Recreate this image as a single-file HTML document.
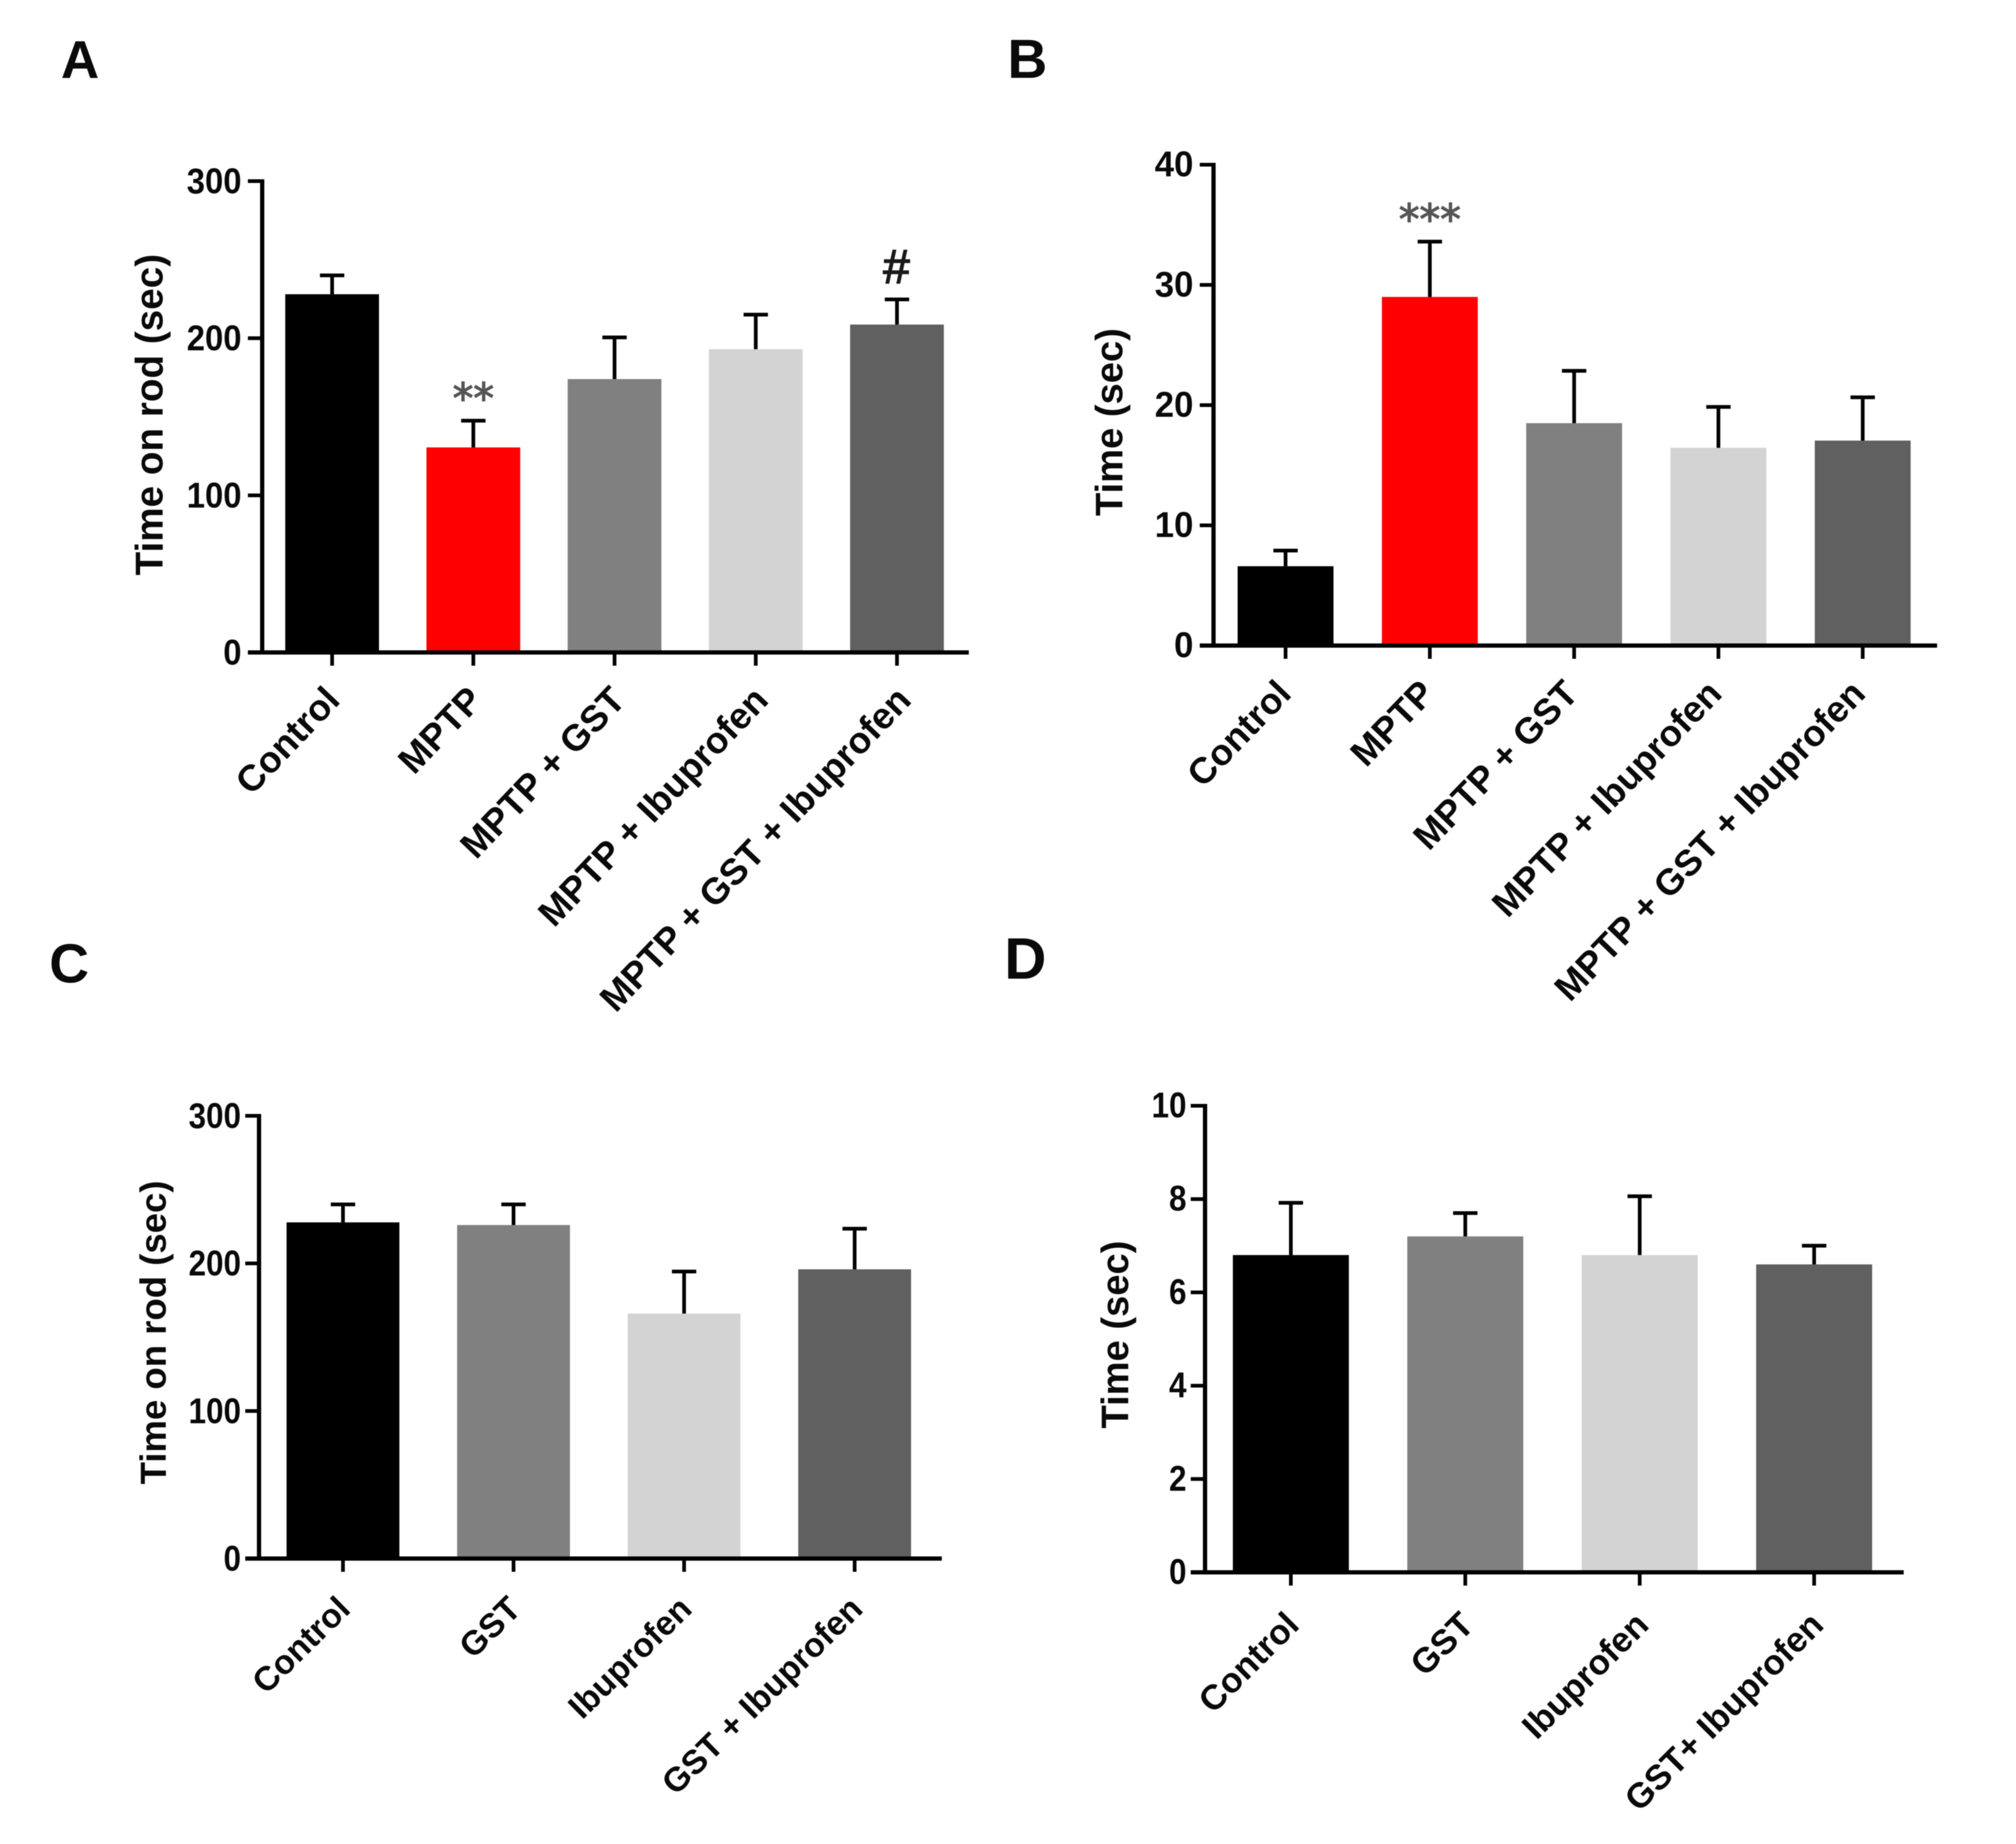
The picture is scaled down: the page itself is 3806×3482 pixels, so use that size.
<!DOCTYPE html>
<html lang="en">
<head>
<meta charset="utf-8">
<title>Time on rod and time measurements across treatment groups</title>
<style>
  html, body { margin: 0; padding: 0; background: #fff; }
  body { width: 3806px; height: 3482px; overflow: hidden; }
  svg { display: block; filter: blur(0.9px); }
  text { font-family: "Liberation Sans", sans-serif; font-weight: 700; fill: #0a0a0a; }
</style>
</head>
<body>
<svg id="figure" xmlns="http://www.w3.org/2000/svg" width="3806" height="3482" viewBox="0 0 3806 3482">
  <rect x="0" y="0" width="3806" height="3482" fill="#ffffff"/>
  <text x="115" y="147" font-size="100">A</text>
  <text x="1902" y="147" font-size="104">B</text>
  <text x="93" y="1855" font-size="104">C</text>
  <text x="1896" y="1848" font-size="110">D</text>
</svg>
<script>
// Panel A: time on rod, MPTP groups
const categoriesA = ["Control", "MPTP", "MPTP + GST", "MPTP + Ibuprofen", "MPTP + GST + Ibuprofen"];
const valuesA = [228, 130.5, 174, 193, 208.7];
const errorsA = [12, 17, 26.5, 22, 16];
const ticksA = [0, 100, 200, 300];
const shadesA = ["#000000", "#ff0000", "#808080", "#d3d3d3", "#606060"];
const marksA = ["", "**", "", "", "#"];

// Panel B: time, MPTP groups
const categoriesB = ["Control", "MPTP", "MPTP + GST", "MPTP + Ibuprofen", "MPTP + GST + Ibuprofen"];
const valuesB = [6.6, 29, 18.5, 16.45, 17.05];
const errorsB = [1.3, 4.6, 4.35, 3.4, 3.6];
const ticksB = [0, 10, 20, 30, 40];
const shadesB = ["#000000", "#ff0000", "#808080", "#d3d3d3", "#606060"];
const marksB = ["", "***", "", "", ""];

// Panel C: time on rod, non-MPTP groups
const categoriesC = ["Control", "GST", "Ibuprofen", "GST + Ibuprofen"];
const valuesC = [227.8, 226, 166, 196];
const errorsC = [12.2, 14, 28.5, 27.5];
const ticksC = [0, 100, 200, 300];
const shadesC = ["#000000", "#808080", "#d3d3d3", "#606060"];
const marksC = ["", "", "", ""];

// Panel D: time, non-MPTP groups
const categoriesD = ["Control", "GST", "Ibuprofen", "GST+ Ibuprofen"];
const valuesD = [6.8, 7.2, 6.8, 6.6];
const errorsD = [1.12, 0.5, 1.26, 0.4];
const ticksD = [0, 2, 4, 6, 8, 10];
const shadesD = ["#000000", "#808080", "#d3d3d3", "#606060"];
const marksD = ["", "", "", ""];

const NS = "http://www.w3.org/2000/svg";
const figure = document.getElementById("figure");

function mk(parent, tag, attrs, content) {
  const node = document.createElementNS(NS, tag);
  for (const key in attrs) node.setAttribute(key, attrs[key]);
  if (content !== undefined) node.textContent = content;
  parent.appendChild(node);
  return node;
}

function slug(text) {
  return text.toLowerCase().replace(/[^a-z0-9]+/g, "-").replace(/^-|-$/g, "");
}

function drawPanel(layout, categories, values, errors, ticks, shades, marks) {
  const domainMax = ticks[ticks.length - 1];
  const yOf = v => layout.baseY - (v / domainMax) * (layout.baseY - layout.topY);
  const xOf = i => layout.firstX + i * layout.stepX;

  const g = mk(figure, "g", {});
  
  

  categories.forEach((cat, i) => {
    const top = yOf(values[i]);
    const bar = mk(g, "rect", {
      x: xOf(i) - layout.barW / 2, y: top, width: layout.barW, height: layout.baseY - top, fill: shades[i]
    });
    
    

    const errTop = yOf(values[i] + errors[i]);
    const errStem = mk(g, "line", {
      x1: xOf(i), x2: xOf(i), y1: top, y2: errTop, stroke: "#000", "stroke-width": 7
    });
    
    

    const errCap = mk(g, "line", {
      x1: xOf(i) - 23, x2: xOf(i) + 23, y1: errTop, y2: errTop, stroke: "#000", "stroke-width": 7
    });
    
    

    if (marks[i] === "#") {
      const hash = mk(g, "text", {
        x: xOf(i) - 1, y: errTop - 31, "text-anchor": "middle", "font-size": 90,
        style: 'font-weight:400;fill:#1a1a1a;stroke:#1a1a1a;stroke-width:2.5px'
      }, marks[i]);
      
      
    } else if (marks[i]) {
      const stars = mk(g, "text", {
        x: xOf(i), y: errTop - 15, "text-anchor": "middle", "font-size": 78,
        style: 'font-family:"DejaVu Sans",sans-serif;font-weight:400;fill:#555555;stroke:#555555;stroke-width:2px'
      }, marks[i]);
      
      
    }

    const xTick = mk(g, "line", {
      x1: xOf(i), x2: xOf(i), y1: layout.baseY, y2: layout.baseY + 25, stroke: "#000", "stroke-width": 7
    });
    
    

    const lx = layout.firstX + i * layout.catStep + layout.catDx;
    const ly = layout.baseY + layout.catDy;
    const catLabel = mk(g, "text", {
      x: lx, y: ly, "text-anchor": "end", "font-size": layout.catFont,
      transform: "rotate(" + layout.catAngle + " " + lx + " " + ly + ")"
    }, cat);
    
    
  });

  ticks.forEach(t => {
    const yTick = mk(g, "line", {
      x1: layout.tickLeft, x2: layout.axisX, y1: yOf(t), y2: yOf(t), stroke: "#000", "stroke-width": 7
    });
    
    

    const str = String(t);
    const tickLabel = mk(g, "text", {
      x: layout.labelRight, y: yOf(t) + layout.labelDy, "text-anchor": "end", "font-size": 68,
      textLength: str.length * layout.digitW, lengthAdjust: "spacingAndGlyphs"
    }, str);
    
    
  });

  const yAxis = mk(g, "line", {
    x1: layout.axisX, x2: layout.axisX, y1: layout.topY - 3.5, y2: layout.baseY + 3.5, stroke: "#000", "stroke-width": 8
  });
  
  

  const xAxis = mk(g, "line", {
    x1: layout.tickLeft, x2: layout.axisRight, y1: layout.baseY, y2: layout.baseY, stroke: "#000", "stroke-width": 8
  });
  
  

  const title = mk(g, "text", {
    x: layout.titleX, y: layout.titleY, "text-anchor": "middle", "font-size": layout.titleFont,
    transform: "rotate(-90 " + layout.titleX + " " + layout.titleY + ")"
  }, layout.title);
  
  
}

drawPanel({
  id: "a", baseY: 1232, topY: 342, firstX: 627, stepX: 266.6, barW: 177,
  axisX: 495, tickLeft: 468, axisRight: 1829, labelRight: 456, labelDy: 23, digitW: 34.5,
  catStep: 269.6, catDx: 18, catDy: 93, catFont: 69.5, catAngle: -46.4,
  title: "Time on rod (sec)", titleX: 307, titleY: 783, titleFont: 73
}, categoriesA, valuesA, errorsA, ticksA, shadesA, marksA);

drawPanel({
  id: "b", baseY: 1219, topY: 311, firstX: 2427, stepX: 272.4, barW: 181,
  axisX: 2291, tickLeft: 2265, axisRight: 3657, labelRight: 2253, labelDy: 22, digitW: 36.5,
  catStep: 271, catDx: 14, catDy: 94, catFont: 69, catAngle: -46,
  title: "Time (sec)", titleX: 2119, titleY: 797, titleFont: 72
}, categoriesB, valuesB, errorsB, ticksB, shadesB, marksB);

drawPanel({
  id: "c", baseY: 2943, topY: 2107, firstX: 647.5, stepX: 322, barW: 213,
  axisX: 489, tickLeft: 463, axisRight: 1778, labelRight: 455, labelDy: 23, digitW: 33,
  catStep: 322.5, catDx: 17, catDy: 99, catFont: 64, catAngle: -44.5,
  title: "Time on rod (sec)", titleX: 313, titleY: 2516, titleFont: 69
}, categoriesC, valuesC, errorsC, ticksC, shadesC, marksC);

drawPanel({
  id: "d", baseY: 2969, topY: 2088, firstX: 2437, stepX: 329.3, barW: 219,
  axisX: 2275, tickLeft: 2248, axisRight: 3594, labelRight: 2240, labelDy: 22, digitW: 33,
  catStep: 330, catDx: 19, catDy: 103, catFont: 66, catAngle: -45,
  title: "Time (sec)", titleX: 2130, titleY: 2520, titleFont: 72
}, categoriesD, valuesD, errorsD, ticksD, shadesD, marksD);
</script>
</body>
</html>
